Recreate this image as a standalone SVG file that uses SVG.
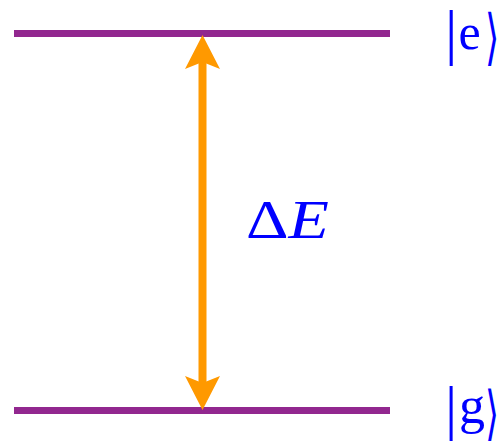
<svg xmlns="http://www.w3.org/2000/svg" width="500" height="441" viewBox="0 0 500 441">
<style>
.lvl{stroke:#92278f;stroke-width:7;fill:none}
.lbl{fill:#0000ff;font-family:"Liberation Serif","DejaVu Serif",serif}
.arr{fill:#ff9900}
</style>
<rect width="500" height="441" fill="#fff"/>
<g id="level-e"><line class="lvl" x1="14" y1="33.5" x2="390" y2="33.5"/></g>
<g id="level-g"><line class="lvl" x1="14" y1="410.5" x2="390" y2="410.5"/></g>
<g id="connectors">
<rect class="arr" x="198.5" y="60" width="8" height="325"/>
<path class="arr" d="M202.5,35 L220,69 L202.5,62 L185,69 Z"/>
<path class="arr" d="M202.5,410 L220,376 L202.5,383 L185,376 Z"/>
</g>
<g id="label-e">
<text class="lbl" x="445" y="52.5" font-size="62">|</text>
<text class="lbl" x="458.5" y="49" font-size="50">e</text>
<text class="lbl" transform="translate(485,57.5) scale(0.6,1)" x="0" y="0" font-size="61">⟩</text>
</g>
<g id="label-g">
<text class="lbl" x="445" y="429" font-size="61">|</text>
<text class="lbl" x="459" y="423" font-size="52">g</text>
<text class="lbl" transform="translate(485,434) scale(0.6,1)" x="0" y="0" font-size="60">⟩</text>
</g>
<g id="label-dE"><text class="lbl" x="246" y="238" font-size="55" textLength="83" lengthAdjust="spacingAndGlyphs">Δ<tspan font-style="italic">E</tspan></text></g>
</svg>
